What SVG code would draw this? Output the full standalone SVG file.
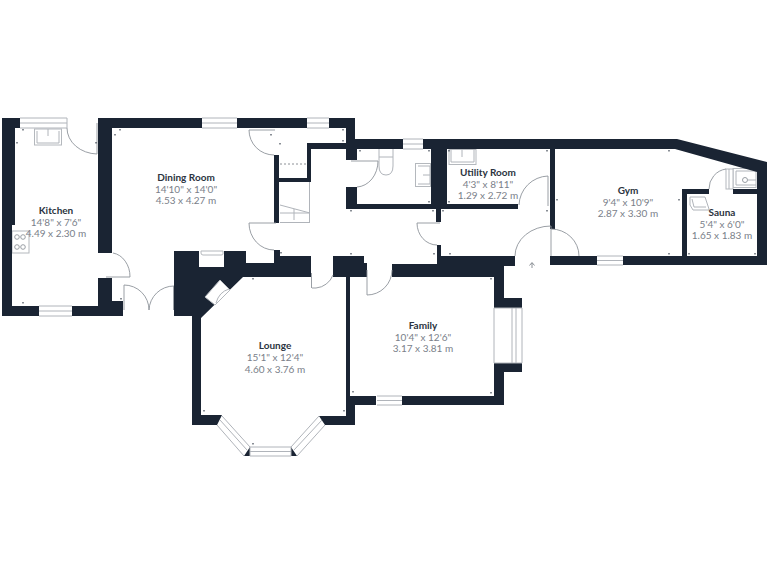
<svg xmlns="http://www.w3.org/2000/svg" width="768" height="576" viewBox="0 0 768 576">
<style>
.w{fill:#1a2433}
.g{fill:#fff;stroke:#b4b8bd;stroke-width:1}
.l{fill:none;stroke:#b0b4ba;stroke-width:1}
.d{fill:none;stroke:#8e949b;stroke-width:.9}
.n{font:700 10px "Lato","Liberation Sans",sans-serif;fill:#2b3340;text-anchor:middle}
.s{font:400 10px "Lato","Liberation Sans",sans-serif;fill:#7a8089;text-anchor:middle}
</style>
<defs><path id="t" class="w" d="M-.9 -.8H.9L0 1Z"/></defs>
<rect width="768" height="576" fill="#fff"/>
<g id="fixtures">
<rect class="g" x="34.500" y="129" width="27" height="16"/><path class="l" d="M37 131V143H59V131M48 129V136"/>
<rect class="g" x="12" y="231" width="17" height="22"/><circle class="d" cx="17" cy="237" r="2.300"/><circle class="d" cx="23" cy="237" r="2.300"/><circle class="d" cx="17" cy="247" r="2.300"/><circle class="d" cx="23" cy="247" r="2.300"/>
<path class="l" d="M379 149V166Q379 175 386 175T393 166V149M379 157H393"/>
<rect class="g" x="415.500" y="163.500" width="15" height="23"/><path class="l" d="M418 166H430V184H418M423 175H430"/>
<rect class="g" x="449" y="149.500" width="27" height="15"/><path class="l" d="M451 149V162H474V149M462 149V157"/>
<rect class="g" x="733" y="168.500" width="23" height="19"/><path class="l" d="M736 171V185H756M736 171H756"/><circle class="d" cx="745" cy="180" r="2.500"/><path class="l" d="M748 180H756"/>
<rect class="g" x="726" y="169" width="7" height="20"/><path class="l" d="M729 169V189"/>
<path class="l" d="M690 197H705L709 209V210H693L690 205ZM692 199L694 207H706"/>
<path class="l" d="M280 205L310 213M280 213H310M294 209V220M280 222.500H310M309.500 182V223"/>
<path d="M280 164H307" fill="none" stroke="#6f757c" stroke-dasharray="2 2" stroke-width=".8"/>
</g>
<g id="walls">
<path class="w" d="M2 118H20V128H15V225H12V306H39V316H2Z"/>
<path class="w" d="M72 306H98V278H112V301H123V316H72Z"/>
<path class="w" d="M98 118H202V128H112V253H98Z"/>
<path class="w" d="M237 118H307V128H237Z"/>
<path class="w" d="M329 118H355V139H403V149H357V160H346V149H311V182H279V223H274V155H279V178H307V143H346V128H329Z"/>
<path class="w" d="M423 139H677L767 162V265H623V256H757V172L675 149H555V229H550V149H447V204H518V209H441V222H436V209H346V187H357V204H431V149H423Z"/>
<path class="w" d="M682 189H709V194H687V256H682Z"/>
<path class="w" d="M733 189H757V194H733Z"/>
<path class="w" d="M550 256H597V265H550Z"/>
<path class="w" d="M174 251H199V267H224V251H246V263H274V250H280V256H311V277H243L201 318V415H222L217 425H192V316H174Z"/>
<path class="w" d="M333 256H364V263H367V277H350V396H355V425H325L319 416H346V277H333Z"/>
<path class="w" d="M437 245H441V256H515V266H504V298H522V308H494V277H392V264H437Z"/>
<path class="w" d="M494 363H522V372H504V405H402V396H494Z"/>
<path class="w" d="M350 396H376V405H350Z"/>
<path class="w" d="M244 456L250 447V456ZM297 456L291 447V456Z"/>
</g>
<g id="windows">
<path class="l" d="M20 118H67M20 123H67M20 128H67M67 118V128"/>
<path class="l" d="M39 306H72M39 311H72M39 316H72"/>
<path class="l" d="M202 118H237M202 123H237M202 128H237"/>
<path class="l" d="M307 118H329M307 123H329M307 128H329"/>
<path class="l" d="M403 139H423M403 144H423M403 149H423"/>
<path class="l" d="M597 256H623M597 260.500H623M597 265H623"/>
<path class="l" d="M377 396H402M377 400.500H402M377 405H402"/>
<path class="l" d="M494 308V363M512 308V363M516 308V363M522 308V363M494 308H522M494 363H522"/>
<path class="l" d="M250 447H291M250 451.500H291M250 456H291M250 447V456M291 447V456"/>
<path class="l" d="M222 416L250 447M220 420L247 450M217 425L244 456"/>
<path class="l" d="M319 416L291 447M322 420L294 450M325 425L297 456"/>
<path class="g" d="M205 297L220 280L230 290L215 305Z"/>
<path class="l" d="M216 303Q219 292 229 289"/>
<path class="g" d="M201 251H223V254Q223 255 221 255H203Q201 255 201 253Z"/>
</g>
<g id="doors">
<path class="d" d="M67 128A31 26 0 0 0 97 154M97 123V154"/>
<path class="d" d="M113 253A20 24 0 0 1 130 277H106"/>
<path class="d" d="M124 285V310M124 285A25 25 0 0 1 149 310A25 25 0 0 1 174 286M173.500 286V310"/>
<path class="d" d="M249 130H275M249 130A25 25 0 0 0 274 155"/>
<path class="d" d="M249 223H276M249 223A25 27 0 0 0 274 250"/>
<path class="d" d="M311.500 273V288M312 288H316A20 20 0 0 0 333 275"/>
<path class="d" d="M367 270V295M367 295A25 25 0 0 0 392 270"/>
<path class="d" d="M351 161H378A22 26 0 0 1 357 187"/>
<path class="d" d="M417 223H440M417 223A20 22 0 0 0 437 245"/>
<path class="d" d="M548 176V206M548 176A30 30 0 0 0 519 205"/>
<path class="d" d="M551 226V256M551 226A36 30 0 0 0 515 256"/>
<path class="d" d="M551 229A28 27 0 0 1 579 256"/>
<path class="d" d="M726 169A20 20 0 0 0 709 189"/>
<path d="M532 268V263M529.500 265.500L532 262.500L534.500 265.500" fill="none" stroke="#6f757c" stroke-width=".8"/>
</g>
<g id="ticks">
<use href="#t" x="23" y="130"/><use href="#t" x="17" y="143"/><use href="#t" x="120" y="130"/><use href="#t" x="115" y="135"/><use href="#t" x="96" y="143"/><use href="#t" x="23" y="303"/><use href="#t" x="121" y="299"/>
<use href="#t" x="271" y="135"/><use href="#t" x="280" y="144"/><use href="#t" x="343" y="130"/><use href="#t" x="343" y="141"/><use href="#t" x="360" y="151"/><use href="#t" x="253" y="279"/><use href="#t" x="281" y="253"/><use href="#t" x="351" y="254"/><use href="#t" x="351" y="211"/>
<use href="#t" x="429" y="151"/><use href="#t" x="429" y="202"/><use href="#t" x="449" y="151"/><use href="#t" x="449" y="202"/><use href="#t" x="547" y="151"/><use href="#t" x="557" y="200"/><use href="#t" x="547" y="211"/><use href="#t" x="443" y="211"/><use href="#t" x="433" y="211"/><use href="#t" x="434" y="254"/><use href="#t" x="450" y="254"/><use href="#t" x="491" y="279"/>
<use href="#t" x="669" y="151"/><use href="#t" x="669" y="254"/><use href="#t" x="679" y="200"/><use href="#t" x="689" y="254"/><use href="#t" x="755" y="254"/>
<use href="#t" x="204" y="411"/><use href="#t" x="344" y="411"/><use href="#t" x="353" y="392"/><use href="#t" x="491" y="393"/><use href="#t" x="253" y="444"/>
</g>
<g id="labels">
<text class="n" x="56" y="214">Kitchen</text><text class="s" x="56" y="226">14'8" x 7'6"</text><text class="s" x="56" y="237">4.49 x 2.30 m</text>
<text class="n" x="186" y="181">Dining Room</text><text class="s" x="186" y="193">14'10" x 14'0"</text><text class="s" x="186" y="204">4.53 x 4.27 m</text>
<text class="n" x="488" y="176">Utility Room</text><text class="s" x="488" y="188">4'3" x 8'11"</text><text class="s" x="488" y="199">1.29 x 2.72 m</text>
<text class="n" x="628" y="194">Gym</text><text class="s" x="628" y="206">9'4" x 10'9"</text><text class="s" x="628" y="217">2.87 x 3.30 m</text>
<text class="n" x="722" y="216">Sauna</text><text class="s" x="722" y="228">5'4" x 6'0"</text><text class="s" x="722" y="239">1.65 x 1.83 m</text>
<text class="n" x="275" y="349">Lounge</text><text class="s" x="275" y="361">15'1" x 12'4"</text><text class="s" x="275" y="372.500">4.60 x 3.76 m</text>
<text class="n" x="423" y="329">Family</text><text class="s" x="423" y="341">10'4" x 12'6"</text><text class="s" x="423" y="352">3.17 x 3.81 m</text>
</g>
</svg>
